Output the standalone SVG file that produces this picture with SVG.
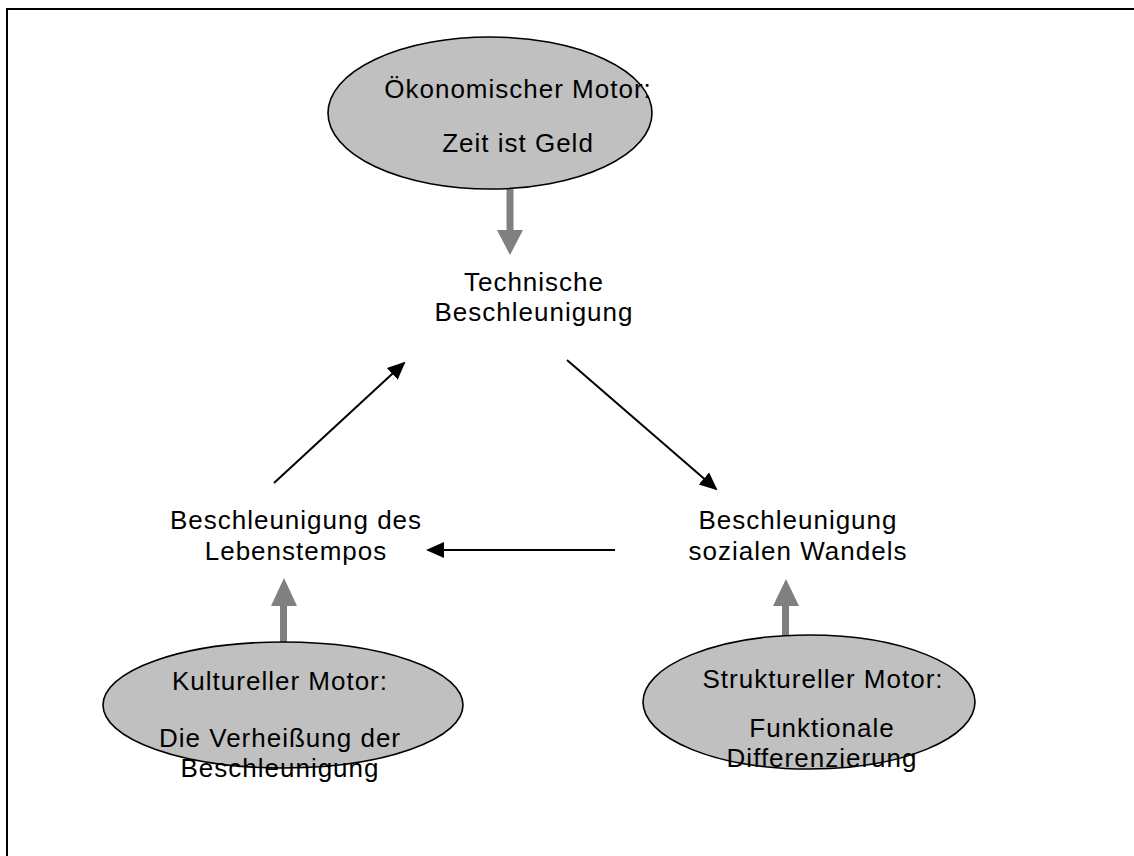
<svg xmlns="http://www.w3.org/2000/svg" width="1134" height="856" viewBox="0 0 1134 856">
<style>
  .t { font-family: "Liberation Sans", Arial, sans-serif; font-size: 26px; letter-spacing: 1px; fill: #000; text-anchor: middle; }
  .ell { fill: #c0c0c0; stroke: #000; stroke-width: 1.6; }
  .conn { stroke: #000; stroke-width: 2; fill: none; }
  .garrow { fill: #808080; }
</style>
<defs>
  <marker id="ah" markerWidth="20" markerHeight="18" refX="16" refY="8" orient="auto" markerUnits="userSpaceOnUse" viewBox="0 0 20 16">
    <path d="M0,0 L18,8 L0,16 Z" fill="#000"/>
  </marker>
</defs>
<rect x="0" y="0" width="1134" height="856" fill="#fff"/>
<path d="M7,860 L7,9 L1140,9" fill="none" stroke="#000" stroke-width="2"/>

<g id="connectors">
  <path class="garrow" d="M506.5,189 L513.5,189 L513.5,230 L523,230 L510,255 L497,230 L506.5,230 Z"/>
  <path class="garrow" d="M280,643 L287,643 L287,606 L297,606 L284,578 L271,606 L280,606 Z"/>
  <path class="garrow" d="M782,635 L789,635 L789,606 L799,606 L786,579 L773,606 L782,606 Z"/>
  <line x1="274" y1="483" x2="404" y2="363" class="conn" marker-end="url(#ah)"/>
  <line x1="567" y1="360" x2="716" y2="489" class="conn" marker-end="url(#ah)"/>
  <line x1="615" y1="550" x2="428" y2="550" class="conn" marker-end="url(#ah)"/>
</g>

<g id="oekonomischer-motor">
  <ellipse class="ell" cx="490" cy="113" rx="162" ry="76"/>
  <text class="t" x="518" y="98">Ökonomischer Motor:</text>
  <text class="t" x="518" y="152">Zeit ist Geld</text>
</g>
<g id="technische-beschleunigung">
  <text class="t" x="534" y="291">Technische</text>
  <text class="t" x="534" y="321">Beschleunigung</text>
</g>
<g id="lebenstempo">
  <text class="t" x="296" y="529">Beschleunigung des</text>
  <text class="t" x="296" y="560">Lebenstempos</text>
</g>
<g id="sozialer-wandel">
  <text class="t" x="798" y="529">Beschleunigung</text>
  <text class="t" x="798" y="560">sozialen Wandels</text>
</g>
<g id="kultureller-motor">
  <ellipse class="ell" cx="283" cy="705" rx="180" ry="63"/>
  <text class="t" x="280" y="690">Kultureller Motor:</text>
  <text class="t" x="280" y="747">Die Verheißung der</text>
  <text class="t" x="280" y="777">Beschleunigung</text>
</g>
<g id="struktureller-motor">
  <ellipse class="ell" cx="809" cy="702" rx="166" ry="67"/>
  <text class="t" x="823" y="688">Struktureller Motor:</text>
  <text class="t" x="822" y="737">Funktionale</text>
  <text class="t" x="822" y="767">Differenzierung</text>
</g>
</svg>
